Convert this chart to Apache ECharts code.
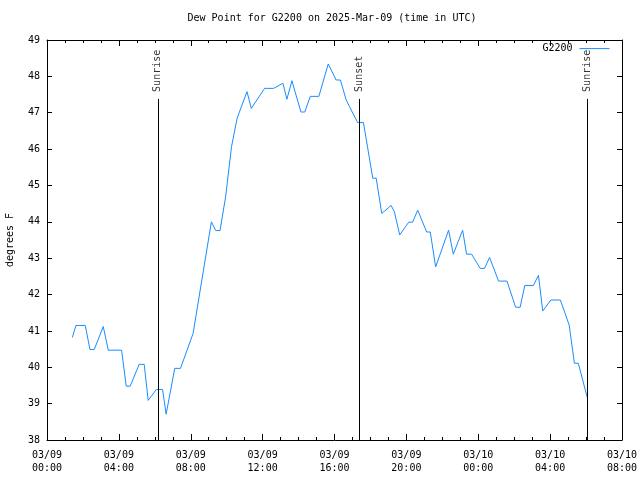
<!DOCTYPE html>
<html><head><meta charset="utf-8">
<script src="https://cdn.jsdelivr.net/npm/echarts@6/dist/echarts.min.js"></script>
<style>html,body{margin:0;padding:0;background:#fff}#c{width:640px;height:480px}</style>
</head><body><div id="c"></div>
<script>
// Hours since 03/09 00:00 UTC
const hours = [1.41,1.61,2.13,2.39,2.63,3.13,3.41,4.15,4.41,4.63,5.13,5.41,5.63,6.09,6.43,6.63,7.11,7.43,8.13,9.15,9.39,9.63,9.94,10.27,10.58,11.13,11.37,12.11,12.61,13.13,13.35,13.63,14.13,14.35,14.65,15.13,15.65,16.09,16.33,16.65,16.83,17.29,17.61,18.13,18.32,18.63,19.15,19.33,19.63,20.13,20.35,20.63,21.13,21.33,21.63,22.35,22.61,23.13,23.35,23.63,24.11,24.35,24.63,25.13,25.6,26.08,26.33,26.59,27.07,27.35,27.59,28.04,28.57,29.06,29.35,29.57,30.07];
const dewF = [40.82,41.15,41.15,40.49,40.49,41.12,40.47,40.47,39.48,39.48,40.08,40.08,39.09,39.39,39.39,38.71,39.97,39.97,40.93,44.0,43.76,43.76,44.69,46.07,46.85,47.58,47.12,47.67,47.67,47.81,47.37,47.88,47.02,47.02,47.45,47.45,48.34,47.9,47.9,47.35,47.17,46.73,46.73,45.2,45.2,44.23,44.45,44.28,43.64,43.99,43.99,44.32,43.72,43.72,42.76,43.77,43.11,43.77,43.11,43.11,42.72,42.72,43.02,42.37,42.37,41.65,41.65,42.25,42.25,42.53,41.55,41.85,41.85,41.16,40.11,40.11,39.16];
const eventNames = ['Sunrise','Sunset','Sunrise'];
const eventHours = [6.17,17.39,30.06];
const eventTop = 47.38;
const xTickLabels = ['03/09\n00:00','03/09\n04:00','03/09\n08:00','03/09\n12:00','03/09\n16:00','03/09\n20:00','03/10\n00:00','03/10\n04:00','03/10\n08:00'];
const seriesName = 'G2200';

const FONT = 'DejaVu Sans Mono';
const LINE_COLOR = '#1a8cff';
const chart = echarts.init(document.getElementById('c'), null, {renderer:'canvas'});
const axisLine = {show:true, onZero:false, lineStyle:{color:'#000', width:1}};
const opt = {
  animation:false,
  backgroundColor:'#fff',
  textStyle:{fontFamily:FONT, fontSize:10, color:'#000'},
  title:{text:'Dew Point for G2200 on 2025-Mar-09 (time in UTC)', left:332, textAlign:'center', top:13, padding:0,
    textStyle:{fontFamily:FONT, fontSize:10, fontWeight:'normal', color:'#000'}},
  legend:{data:[seriesName], right:30, top:43, padding:0, align:'right', itemWidth:30, itemHeight:14, itemGap:0,
    itemStyle:{opacity:0}, lineStyle:{width:1, color:LINE_COLOR},
    textStyle:{fontFamily:FONT, fontSize:10, color:'#000', padding:[0,2,0,0]}},
  grid:{left:47, top:40, width:575, bottom:40, show:false, containLabel:false, outerBoundsMode:'none'},
  xAxis:[{type:'value', min:0, max:32, interval:4, position:'bottom',
      axisLine:axisLine, splitLine:{show:false},
      axisTick:{show:true, inside:true, length:6, lineStyle:{color:'#000'}},
      minorTick:{show:true, splitNumber:4, length:3, lineStyle:{color:'#000'}},
      axisLabel:{margin:9, lineHeight:13, fontFamily:FONT, fontSize:10, color:'#000', formatter:v=>xTickLabels[Math.round(v/4)]}},
    {type:'value', min:0, max:32, interval:4, position:'top',
      axisLine:axisLine, splitLine:{show:false},
      axisTick:{show:true, inside:true, length:6, lineStyle:{color:'#000'}},
      minorTick:{show:true, splitNumber:4, length:3, lineStyle:{color:'#000'}},
      axisLabel:{show:false}}],
  yAxis:[{type:'value', min:38, max:49, interval:1, position:'left',
      name:'degrees F', nameLocation:'middle', nameGap:32, nameTextStyle:{fontFamily:FONT, fontSize:10, color:'#000'},
      axisLine:axisLine, splitLine:{show:false},
      axisTick:{show:true, inside:true, length:5, lineStyle:{color:'#000'}},
      axisLabel:{margin:7, fontFamily:FONT, fontSize:10, color:'#000'}},
    {type:'value', min:38, max:49, interval:1, position:'right',
      axisLine:axisLine, splitLine:{show:false},
      axisTick:{show:true, inside:true, length:5, lineStyle:{color:'#000'}},
      axisLabel:{show:false}}],
  series:[
    {name:seriesName, type:'line', symbol:'none', data:hours.map((h,i)=>[h,dewF[i]]),
      lineStyle:{color:LINE_COLOR, width:1}, itemStyle:{color:LINE_COLOR}},
    {name:'events', type:'scatter', symbolSize:0, silent:true,
      data:eventHours.map((h,i)=>({value:[h,eventTop], name:eventNames[i]})),
      label:{show:true, formatter:p=>p.name, position:'top', distance:7, rotate:90, align:'left', verticalAlign:'middle',
        fontFamily:FONT, fontSize:10, color:'#000'},
      markLine:{silent:true, symbol:'none', label:{show:false}, lineStyle:{color:'#000', width:1, type:'solid'},
        data:eventHours.map(h=>[{coord:[h,38]},{coord:[h,eventTop]}])}}
  ]
};
chart.setOption(opt);
</script></body></html>
